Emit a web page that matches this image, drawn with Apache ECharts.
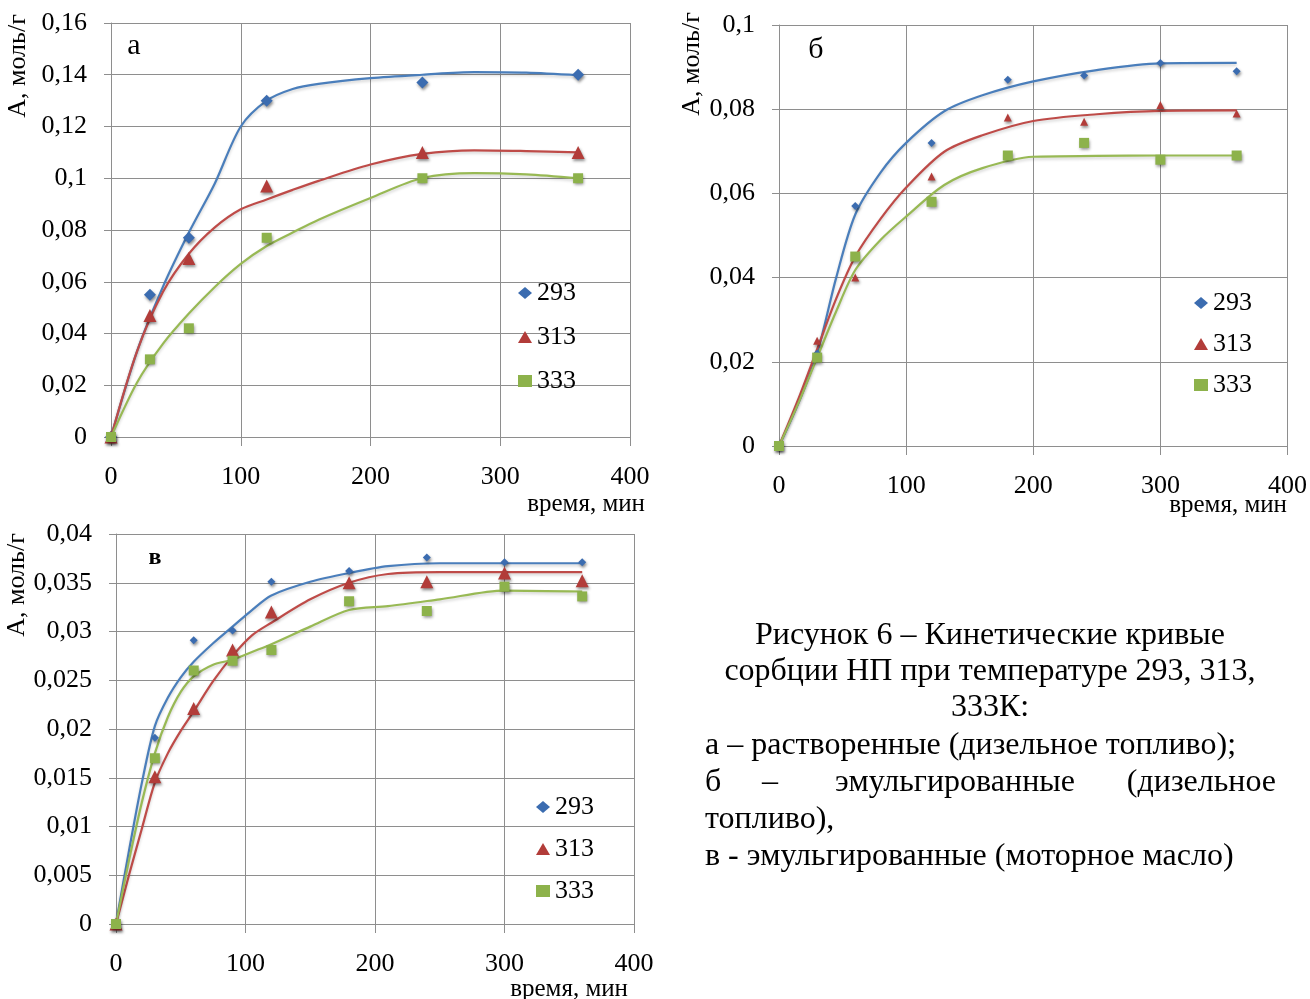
<!DOCTYPE html>
<html>
<head>
<meta charset="utf-8">
<script src="https://cdn.jsdelivr.net/npm/echarts@6/dist/echarts.min.js"></script>
<style>
  html, body { margin: 0; background: #fff; }
  #chart { width: 1310px; height: 999px; }
</style>
</head>
<body>
<div id="chart"></div>
<script>
// ---- данные: а – растворенные (дизельное топливо)
const xA = [0, 30, 60, 120, 240, 360];
const a293 = [0, 0.055, 0.077, 0.13, 0.137, 0.14];
const a313 = [0, 0.047, 0.069, 0.097, 0.11, 0.11];
const a333 = [0, 0.03, 0.042, 0.077, 0.1, 0.1];
// линии тренда
const xAfit = [0, 20, 40, 60, 80, 100, 120, 140, 160, 200, 240, 280, 320, 360];
const a293fit = [0, 0.033, 0.058, 0.079, 0.098, 0.12, 0.13, 0.1345, 0.1365, 0.1387, 0.14, 0.141, 0.1408, 0.1398];
const a313fit = [0, 0.033, 0.056, 0.0708, 0.081, 0.088, 0.0918, 0.0955, 0.099, 0.1053, 0.1094, 0.1108, 0.1105, 0.11];
const a333fit = [0, 0.021, 0.036, 0.0477, 0.058, 0.0669, 0.0738, 0.079, 0.084, 0.0924, 0.1001, 0.102, 0.1015, 0.1];

// ---- б – эмульгированные (дизельное топливо)
const xB = [0, 30, 60, 120, 180, 240, 300, 360];
const b293 = [0, 0.022, 0.057, 0.072, 0.087, 0.088, 0.091, 0.089];
const b313 = [0, 0.025, 0.04, 0.064, 0.078, 0.077, 0.081, 0.079];
const b333 = [0, 0.021, 0.045, 0.058, 0.069, 0.072, 0.068, 0.069];
const xBfit = [0, 15, 30, 45, 60, 80, 100, 130, 160, 200, 250, 300, 360];
const b293fit = [0, 0.01, 0.022, 0.04, 0.055, 0.065, 0.072, 0.0795, 0.0833, 0.0866, 0.0893, 0.0909, 0.091];
const b313fit = [0, 0.011, 0.023, 0.035, 0.045, 0.054, 0.0614, 0.0699, 0.0738, 0.0772, 0.0788, 0.0796, 0.0797];
const b333fit = [0, 0.01, 0.021, 0.032, 0.0418, 0.049, 0.0545, 0.062, 0.066, 0.0687, 0.0689, 0.069, 0.069];

// ---- в – эмульгированные (моторное масло)
const xC = [0, 30, 60, 90, 120, 180, 240, 300, 360];
const c293 = [0, 0.0191, 0.0291, 0.0301, 0.0351, 0.0362, 0.0376, 0.0371, 0.0371];
const c313 = [0, 0.0151, 0.0221, 0.0281, 0.032, 0.035, 0.0351, 0.036, 0.0352];
const c333 = [0, 0.017, 0.026, 0.027, 0.0281, 0.0331, 0.0321, 0.0346, 0.0336];
const xCfit = [0, 10, 20, 30, 40, 50, 60, 75, 90, 105, 120, 150, 180, 210, 250, 300, 360];
const c293fit = [0, 0.0075, 0.0145, 0.0203, 0.0232, 0.0253, 0.0269, 0.0288, 0.0305, 0.0322, 0.0337, 0.0351, 0.036, 0.0367, 0.037, 0.037, 0.037];
const c313fit = [0, 0.005, 0.0098, 0.0145, 0.0175, 0.0198, 0.0218, 0.0249, 0.0275, 0.0296, 0.0309, 0.0333, 0.035, 0.0359, 0.0361, 0.0361, 0.0361];
const c333fit = [0, 0.0065, 0.0125, 0.0175, 0.0212, 0.0238, 0.0254, 0.0266, 0.0271, 0.0279, 0.0287, 0.0305, 0.0322, 0.0326, 0.0333, 0.0342, 0.0341];

const temps = ['293', '313', '333'];
const xTicks = { min: 0, max: 400, interval: 100 };

const FONT = 'Liberation Serif, "Times New Roman", serif';
const lineColors = ['#4a7ebb', '#be4b48', '#98b954'];
const markColors = ['#3b6cb0', '#b23c39', '#8db24b'];
const symbols = ['diamond', 'triangle', 'rect'];
const GRID_C = '#8e8e8e';

const chart = echarts.init(document.getElementById('chart'));

const pair = (xs, ys) => xs.map((x, i) => [x, ys[i]]);
const fmt = v => String(+v.toFixed(4)).replace('.', ',');

const panels = [
  { xs: xA, pts: [a293, a313, a333], fx: xAfit, fits: [a293fit, a313fit, a333fit],
    grid: { left: 111, top: 23, width: 519, height: 414 }, max: 0.16, step: 0.02,
    sizes: [12, 13, 10] },
  { xs: xB, pts: [b293, b313, b333], fx: xBfit, fits: [b293fit, b313fit, b333fit],
    grid: { left: 779, top: 25, width: 510, height: 421 }, max: 0.1, step: 0.02,
    sizes: [8, 8, 10] },
  { xs: xC, pts: [c293, c313, c333], fx: xCfit, fits: [c293fit, c313fit, c333fit],
    grid: { left: 116, top: 534, width: 518, height: 390 }, max: 0.04, step: 0.005,
    sizes: [8, 13, 10] }
];

const grids = [], xAxes = [], yAxes = [], series = [];

panels.forEach((p, k) => {
  grids.push(p.grid);
  xAxes.push({
    type: 'value', gridIndex: k, min: xTicks.min, max: xTicks.max, interval: xTicks.interval,
    axisLine: { show: true, lineStyle: { color: GRID_C } },
    axisTick: { show: true, length: 9, lineStyle: { color: GRID_C } },
    splitLine: { show: true, lineStyle: { color: GRID_C, width: 1 } },
    axisLabel: { color: '#000', fontFamily: FONT, fontSize: 26, margin: 27 }
  });
  yAxes.push({
    type: 'value', gridIndex: k, min: 0, max: p.max, interval: p.step,
    axisLine: { show: true, lineStyle: { color: GRID_C } },
    axisTick: { show: true, length: 7, lineStyle: { color: GRID_C } },
    splitLine: { show: true, lineStyle: { color: GRID_C, width: 1 } },
    axisLabel: { color: '#000', fontFamily: FONT, fontSize: 26, margin: 24, formatter: fmt }
  });
  temps.forEach((t, i) => {
    series.push({
      name: 'fit' + k + t, type: 'line', xAxisIndex: k, yAxisIndex: k,
      data: pair(p.fx, p.fits[i]), smooth: 0.3,
      showSymbol: false, silent: true, z: 2,
      lineStyle: { color: lineColors[i], width: 2.2,
        shadowColor: 'rgba(0,0,0,0.18)', shadowBlur: 3, shadowOffsetY: 2 }
    });
    series.push({
      name: t, type: 'scatter', xAxisIndex: k, yAxisIndex: k,
      data: pair(p.xs, p.pts[i]), symbol: symbols[i], symbolSize: p.sizes[i], z: 3,
      itemStyle: { color: markColors[i], opacity: 1,
        shadowColor: 'rgba(0,0,0,0.45)', shadowBlur: 3, shadowOffsetX: 1, shadowOffsetY: 2 }
    });
  });
});

const legendItems = temps.map((t, i) => ({ name: t, icon: symbols[i] }));
const legendBase = {
  orient: 'vertical', data: legendItems, itemWidth: 14, itemHeight: 12,
  textStyle: { color: '#000', fontFamily: FONT, fontSize: 26 }, selectedMode: false
};

const txt = (x, y, s, opt) => ({
  type: 'text', x: x, y: y,
  style: Object.assign({ text: s, fill: '#000', font: '32px ' + FONT,
    textAlign: 'left', textVerticalAlign: 'middle' }, opt || {})
});

const yName = (x, y) => ({
  type: 'text', x: x, y: y, rotation: Math.PI / 2,
  style: { text: 'А, моль/г', fill: '#000', font: '26px ' + FONT,
    textAlign: 'center', textVerticalAlign: 'middle' }
});
const xName = (x, y) => txt(x, y, 'время, мин', { font: '25px ' + FONT, textAlign: 'right' });

chart.setOption({
  animation: false,
  backgroundColor: '#fff',
  grid: grids,
  xAxis: xAxes,
  yAxis: yAxes,
  legend: [
    Object.assign({}, legendBase, { left: 513, top: 275, itemGap: 18 }),
    Object.assign({}, legendBase, { left: 1189, top: 285, itemGap: 15 }),
    Object.assign({}, legendBase, { left: 531, top: 789, itemGap: 16 })
  ],
  series: series,
  graphic: [
    yName(18, 66), yName(692, 64), yName(17, 585),
    xName(645, 504), xName(1287, 505), xName(628, 989),
    txt(134, 46, 'а', { font: '30px ' + FONT, textAlign: 'center' }),
    txt(816, 50, 'б', { font: '30px ' + FONT, textAlign: 'center' }),
    txt(155, 558, 'в', { font: 'bold 24px ' + FONT, textAlign: 'center' }),
    // подпись к рисунку
    txt(990, 636, 'Рисунок 6 – Кинетические кривые', { textAlign: 'center' }),
    txt(990, 672, 'сорбции НП при температуре 293, 313,', { textAlign: 'center' }),
    txt(990, 708, '333К:', { textAlign: 'center' }),
    txt(705, 746, 'а – растворенные (дизельное топливо);'),
    txt(705, 783, 'б'),
    txt(770, 783, '–', { textAlign: 'center' }),
    txt(835, 783, 'эмульгированные'),
    txt(1276, 783, '(дизельное', { textAlign: 'right' }),
    txt(705, 820, 'топливо),'),
    txt(705, 857, 'в - эмульгированные (моторное масло)')
  ]
});
</script>
</body>
</html>
